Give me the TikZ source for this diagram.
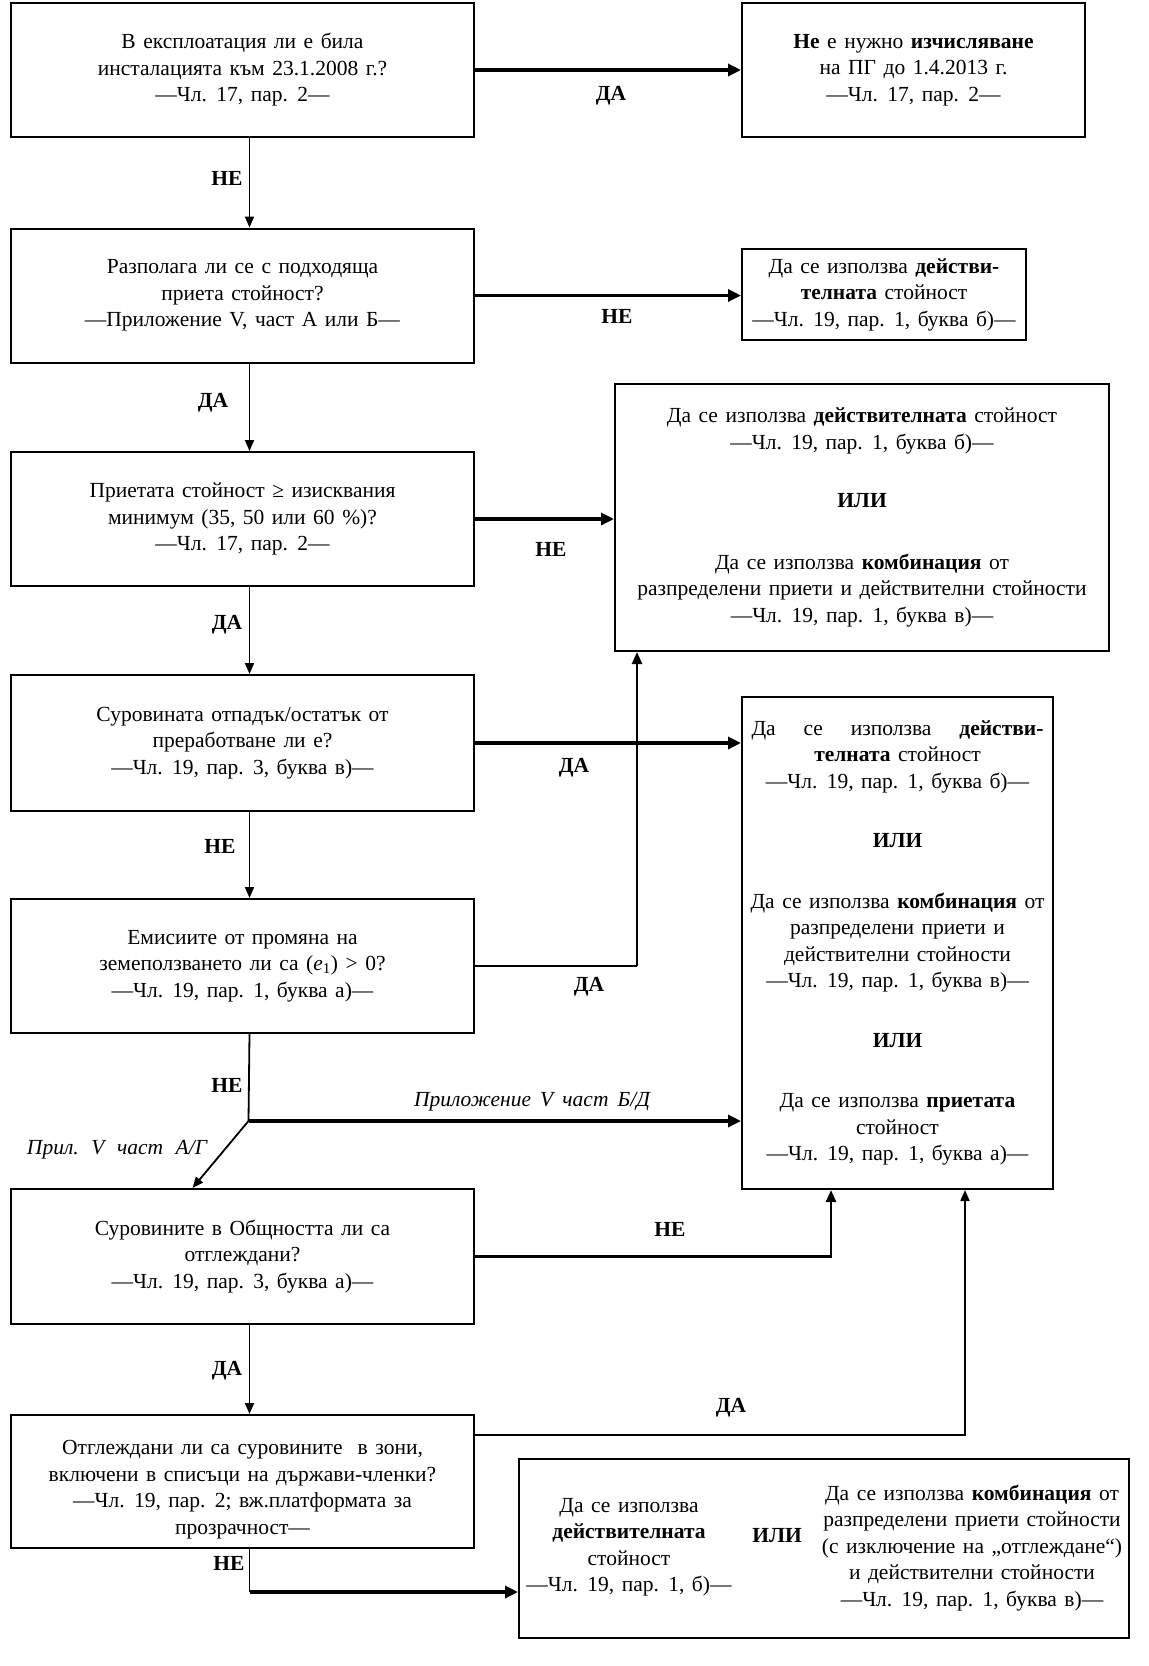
\documentclass[tikz,border=0pt]{standalone}
\usepackage{fontspec}
\setmainfont[WordSpace=1.4]{Liberation Serif}
\usetikzlibrary{arrows.meta}
\newcommand\txtsize{\fontsize{21.5}{26.5}\selectfont}
\begin{document}
\begin{tikzpicture}[x=1pt,y=-1pt,
  box/.style={draw, line width=2pt, align=center, font=\txtsize, anchor=north west, inner sep=0pt},
  txt/.style={align=center, font=\txtsize, inner sep=0pt},
  lbl/.style={font=\txtsize\bfseries, inner sep=1pt},
  ilbl/.style={font=\txtsize\itshape, inner sep=1pt},
  plain/.style={line width=1.8pt},
  thinarr/.style={line width=1.8pt, -{Triangle[length=11pt,width=9pt]}},
  midarr/.style={line width=2.6pt, -{Triangle[length=12pt,width=10pt]}},
  thickarr/.style={line width=3.6pt, -{Triangle[length=13pt,width=12pt]}},
]
\useasboundingbox[fill=white] (0,0) rectangle (1149,1666);

% left column
\node[box, minimum width=463pt, minimum height=134pt] (b1) at (10,2)
  {В експлоатация ли е била\\инсталацията към 23.1.2008 г.?\\—Чл. 17, пар. 2—};
\node[box, minimum width=463pt, minimum height=134pt] (b2) at (10,227.5)
  {Разполага ли се с подходяща\\приета стойност?\\—Приложение V, част А или Б—};
\node[box, minimum width=463pt, minimum height=134pt] (b3) at (10,451)
  {Приетата стойност ≥ изисквания\\минимум (35, 50 или 60 \%)?\\—Чл. 17, пар. 2—};
\node[box, minimum width=463pt, minimum height=136pt] (b4) at (10,674)
  {Суровината отпадък/остатък от\\преработване ли е?\\—Чл. 19, пар. 3, буква в)—};
\node[box, minimum width=463pt, minimum height=134pt] (b5) at (10,898)
  {Емисиите от промяна на\\земеползването ли са ({\itshape e}\textsubscript{1}) > 0?\\—Чл. 19, пар. 1, буква а)—};
\node[box, minimum width=463pt, minimum height=135pt] (b6) at (10,1188)
  {Суровините в Общността ли са\\отглеждани?\\—Чл. 19, пар. 3, буква а)—};
\node[box, minimum width=463pt, minimum height=133pt] (b7) at (10,1414) {};
\node[txt] (b7t) at ([yshift=-8pt]b7.center)
  {Отглеждани ли са суровините\ \ в зони,\\включени в списъци на държави-членки?\\—Чл. 19, пар. 2; вж.платформата за\\прозрачност—};

% right column
\node[box, minimum width=343pt, minimum height=134pt] (r1) at (741,2)
  {\textbf{Не} е нужно \textbf{изчисляване}\\на ПГ до 1.4.2013 г.\\—Чл. 17, пар. 2—};
\node[box, minimum width=284pt, minimum height=91pt] (r2) at (741,248)
  {Да се използва \textbf{действи-}\\\textbf{телната} стойност\\—Чл. 19, пар. 1, буква б)—};
\node[box, minimum width=494pt, minimum height=267pt] (r3) at (614,383)
  {Да се използва \textbf{действителната} стойност\\—Чл. 19, пар. 1, буква б)—\\[32pt]
   \textbf{ИЛИ}\\[35pt]
   Да се използва \textbf{комбинация} от\\разпределени приети и действителни стойности\\—Чл. 19, пар. 1, буква в)—};
\node[box, minimum width=311pt, minimum height=492pt] (r4) at (741,696)
  {\makebox[292pt]{Да\hfill се\hfill използва\hfill \textbf{действи-}}\\\textbf{телната} стойност\\—Чл. 19, пар. 1, буква б)—\\[33pt]
   \textbf{ИЛИ}\\[34pt]
   Да се използва \textbf{комбинация} от\\разпределени приети и\\действителни стойности\\—Чл. 19, пар. 1, буква в)—\\[33pt]
   \textbf{ИЛИ}\\[34pt]
   Да се използва \textbf{приетата}\\стойност\\—Чл. 19, пар. 1, буква а)—};
\node[box, minimum width=610pt, minimum height=179pt] (r5) at (518,1458) {};
\node[txt] (r5a) at (629,1547) {Да се използва\\\textbf{действителната}\\стойност\\—Чл. 19, пар. 1, б)—};
\node[lbl] (r5or) at (777,1536) {ИЛИ};
\node[txt] (r5b) at (972,1548) {Да се използва \textbf{комбинация} от\\разпределени приети стойности\\(с изключение на „отглеждане“)\\и действителни стойности\\—Чл. 19, пар. 1, буква в)—};

% connectors
\draw[thickarr] (b1.east) -- (b1.east -| r1.west);
\draw[thinarr] ([xshift=7pt]b1.south) -- ([xshift=7pt]b2.north);
\draw[thickarr] (b2.east) -- (b2.east -| r2.west);
\draw[thinarr] ([xshift=7pt]b2.south) -- ([xshift=7pt]b3.north);
\draw[thickarr] (b3.east) -- (b3.east -| r3.west);
\draw[thinarr] ([xshift=7pt]b3.south) -- ([xshift=7pt]b4.north);
\draw[thickarr] (b4.east) -- (b4.east -| r4.west);
\draw[thinarr] ([xshift=7pt]b4.south) -- ([xshift=7pt]b5.north);

\coordinate (j1) at ([xshift=23pt]r3.south west |- b5.east);
\draw[plain] (b5.east) -- (j1);
\draw[midarr] (j1) -- ([xshift=23pt]r3.south west);

\coordinate (br) at (248.5,1121);
\draw[plain] ([xshift=7pt]b5.south) -- (br);
\draw[thickarr] (br) -- (br -| r4.west);
\draw[thinarr] (br) -- ([xshift=-50pt]b6.north);

\draw[thinarr] ([xshift=7pt]b6.south) -- ([xshift=7pt]b7.north);
\draw[midarr] (b6.east) -| ([xshift=90pt]r4.south west);
\draw[thinarr] ([yshift=-21pt]b7.north east) -| ([xshift=224pt]r4.south west);

\coordinate (j3) at ([xshift=7pt]b7.south |- 0,1592);
\draw[plain] ([xshift=7pt]b7.south) -- (j3);
\draw[thickarr] (j3) -- (j3 -| r5.west);

% labels
\node[lbl] (l1) at (611,96) {ДА};
\node[lbl] (l2) at (227,178) {НЕ};
\node[lbl] (l3) at (617,316) {НЕ};
\node[lbl] (l4) at (213,403) {ДА};
\node[lbl] (l5) at (551,549) {НЕ};
\node[lbl] (l6) at (227,625) {ДА};
\node[lbl] (l7) at (574,768) {ДА};
\node[lbl] (l8) at (220,846) {НЕ};
\node[lbl] (l9) at (589,987) {ДА};
\node[lbl] (l10) at (227,1085) {НЕ};
\node[ilbl] (l11) at (532,1102) {\makebox[236pt]{Приложение\hfill V\hfill част\hfill Б/Д}};
\node[ilbl] (l12) at (117,1150) {\makebox[180pt]{Прил.\hfill V\hfill част\hfill А/Г}};
\node[lbl] (l13) at (670,1229) {НЕ};
\node[lbl] (l14) at (227,1371) {ДА};
\node[lbl] (l15) at (731,1408) {ДА};
\node[lbl] (l16) at (229,1563) {НЕ};
\end{tikzpicture}
\end{document}
